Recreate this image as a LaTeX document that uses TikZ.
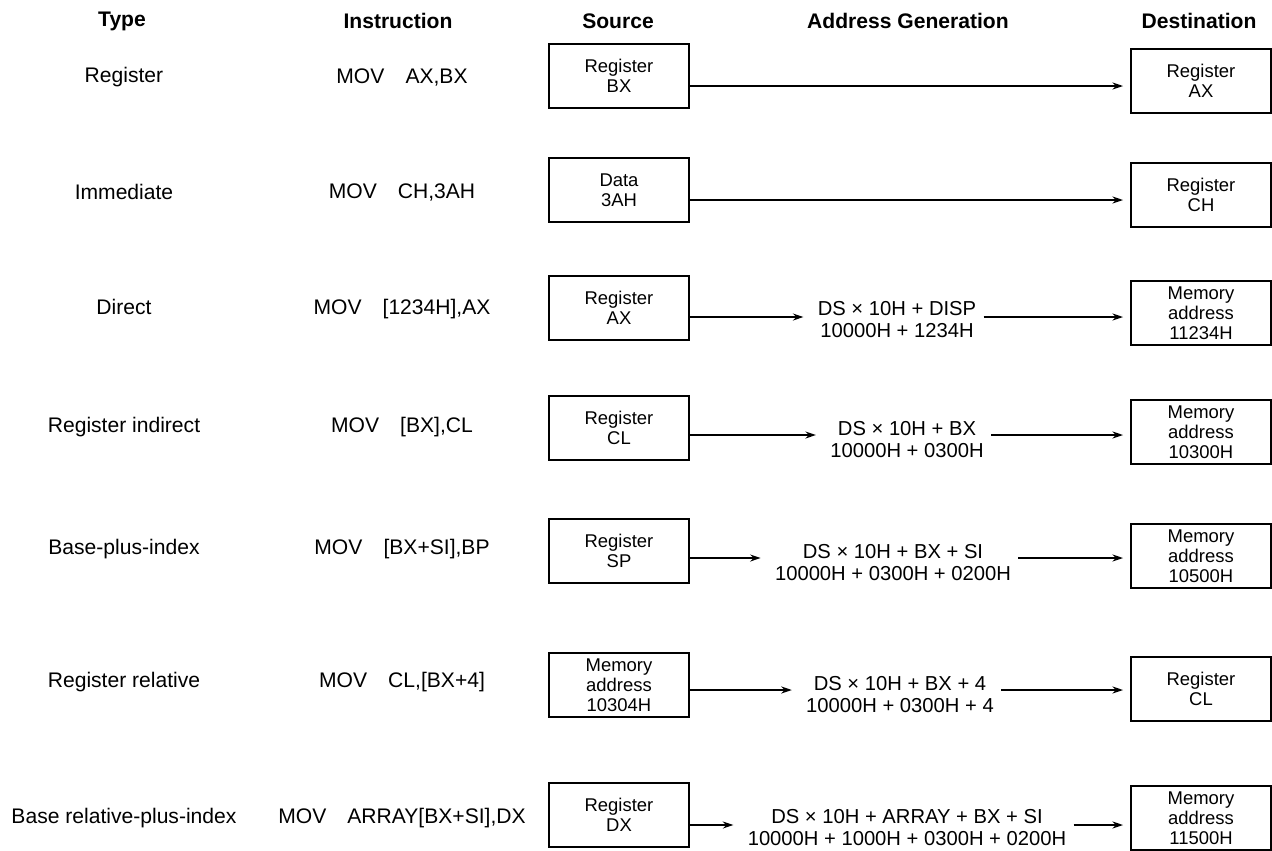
\documentclass[tikz,border=0pt]{standalone}
\usepackage{fontspec}
\setmainfont{Liberation Sans}
\usetikzlibrary{arrows.meta}

\begin{document}
\begin{tikzpicture}[
    x=0.02cm, y=-0.02cm,
    myhead/.style={font=\fontsize{12}{14}\selectfont\bfseries},
    mytext/.style={font=\fontsize{12}{14}\selectfont},
    mybox/.style={rectangle, draw, line width=1.1pt, minimum width=2.8cm, minimum height=1.28cm, align=center, inner sep=1pt, font=\fontsize{10.5}{11.5}\selectfont},
    myaddr/.style={align=center, inner sep=4pt, font=\fontsize{11.5}{12.5}\selectfont},
    myarrow/.style={-{Stealth[length=6pt,width=4pt]}, line width=0.9pt, shorten >=4pt},
]
\useasboundingbox (0,0) rectangle (1272,850);

% column heads
\node[myhead] (hType) at (122,21) {Type};
\node[myhead] (hIns) at (398,21) {Instruction};
\node[myhead] (hSrc) at (618,21) {Source};
\node[myhead] (hAddr) at (908,21) {Address Generation};
\node[myhead] (hDst) at (1199,21) {Destination};

% register
\node[mytext] (type1) at (124,77) {Register};
\node[mytext] (ins1) at (402,77) {MOV\quad AX,BX};
\node[mybox] (src1) at (619,76) {Register\\BX};
\node[mybox] (dst1) at (1201,81) {Register\\AX};
\coordinate (a1) at (900,86);
\draw[myarrow] (src1.east |- a1) -- (dst1.west |- a1);

% immediate
\node[mytext] (type2) at (124,192) {Immediate};
\node[mytext] (ins2) at (402,192) {MOV\quad CH,3AH};
\node[mybox] (src2) at (619,190) {Data\\3AH};
\node[mybox] (dst2) at (1201,195) {Register\\CH};
\coordinate (a2) at (900,200);
\draw[myarrow] (src2.east |- a2) -- (dst2.west |- a2);

% direct
\node[mytext] (type3) at (124,307) {Direct};
\node[mytext] (ins3) at (402,309) {MOV\quad [1234H],AX};
\node[mybox] (src3) at (619,308) {Register\\AX};
\node[myaddr] (addr3) at (897,320) {DS × 10H + DISP\\10000H + 1234H};
\node[mybox] (dst3) at (1201,313) {Memory\\address\\11234H};
\coordinate (a3) at (900,317);
\draw[myarrow] (src3.east |- a3) -- (addr3.west |- a3);
\draw[myarrow] (addr3.east |- a3) -- (dst3.west |- a3);

% register indirect
\node[mytext] (type4) at (124,427) {Register indirect};
\node[mytext] (ins4) at (402,427) {MOV\quad [BX],CL};
\node[mybox] (src4) at (619,428) {Register\\CL};
\node[myaddr] (addr4) at (907,440) {DS × 10H + BX\\10000H + 0300H};
\node[mybox] (dst4) at (1201,432) {Memory\\address\\10300H};
\coordinate (a4) at (900,435);
\draw[myarrow] (src4.east |- a4) -- (addr4.west |- a4);
\draw[myarrow] (addr4.east |- a4) -- (dst4.west |- a4);

% base-plus-index
\node[mytext] (type5) at (124,549) {Base-plus-index};
\node[mytext] (ins5) at (402,549) {MOV\quad [BX+SI],BP};
\node[mybox] (src5) at (619,551) {Register\\SP};
\node[myaddr] (addr5) at (893,563) {DS × 10H + BX + SI\\10000H + 0300H + 0200H};
\node[mybox] (dst5) at (1201,556) {Memory\\address\\10500H};
\coordinate (a5) at (900,558);
\draw[myarrow] (src5.east |- a5) -- (addr5.west |- a5);
\draw[myarrow] (addr5.east |- a5) -- (dst5.west |- a5);

% register relative
\node[mytext] (type6) at (124,682) {Register relative};
\node[mytext] (ins6) at (402,682) {MOV\quad CL,[BX+4]};
\node[mybox] (src6) at (619,685) {Memory\\address\\10304H};
\node[myaddr] (addr6) at (900,695) {DS × 10H + BX + 4\\10000H + 0300H + 4};
\node[mybox] (dst6) at (1201,689) {Register\\CL};
\coordinate (a6) at (900,690);
\draw[myarrow] (src6.east |- a6) -- (addr6.west |- a6);
\draw[myarrow] (addr6.east |- a6) -- (dst6.west |- a6);

% base relative-plus-index
\node[mytext] (type7) at (124,818) {Base relative-plus-index};
\node[mytext] (ins7) at (402,818) {MOV\quad ARRAY[BX+SI],DX};
\node[mybox] (src7) at (619,815) {Register\\DX};
\node[myaddr] (addr7) at (907,828) {DS × 10H + ARRAY + BX + SI\\10000H + 1000H + 0300H + 0200H};
\node[mybox] (dst7) at (1201,818) {Memory\\address\\11500H};
\coordinate (a7) at (900,825);
\draw[myarrow] (src7.east |- a7) -- (addr7.west |- a7);
\draw[myarrow] (addr7.east |- a7) -- (dst7.west |- a7);
\end{tikzpicture}
\end{document}
